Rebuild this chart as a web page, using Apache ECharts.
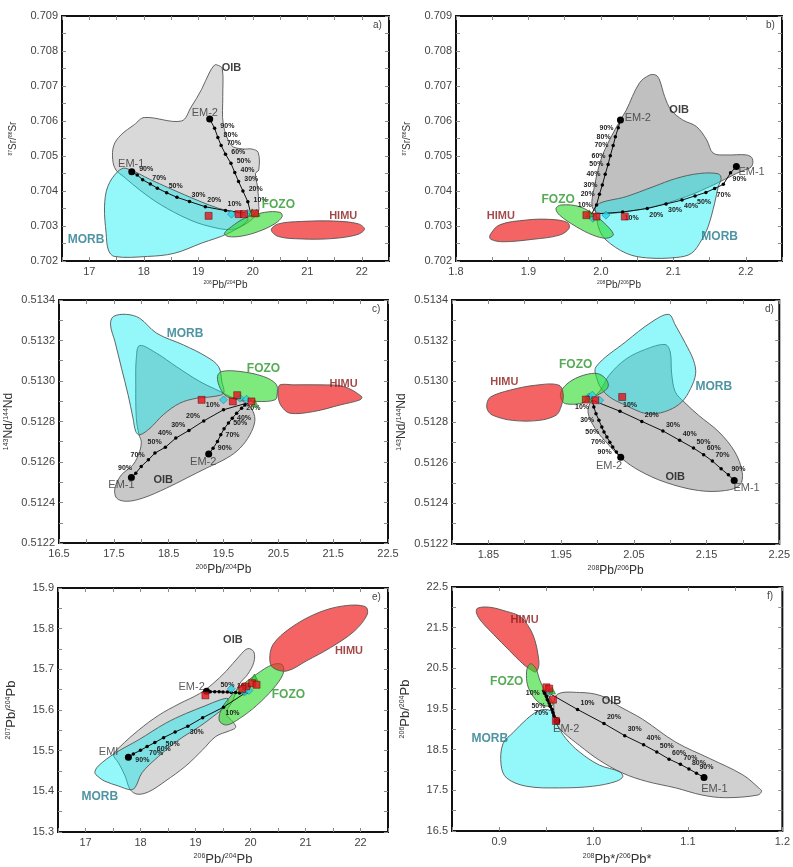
<!DOCTYPE html>
<html><head><meta charset="utf-8">
<script src="https://cdn.jsdelivr.net/npm/echarts@6/dist/echarts.min.js"></script>
<style>html,body{margin:0;padding:0;background:#fff}#c{width:793px;height:867px}</style>
</head><body><div id="c"></div>
<script>
const FONT = 'Liberation Sans, Arial, sans-serif';

// ---------- Panel a : 87Sr/86Sr vs 206Pb/204Pb ----------
const aXTicks = [17, 18, 19, 20, 21, 22];
const aYTicks = [0.702, 0.703, 0.704, 0.705, 0.706, 0.707, 0.708, 0.709];
const aOIB = [[19.35,0.7076],[19.44,0.7075],[19.45,0.7067],[19.46,0.7059],[19.61,0.7053],[19.82,0.7052],[19.98,0.7052],[20.10,0.7051],[20.11,0.7046],[20.05,0.7045],[20.09,0.7041],[20.11,0.7036],[20.10,0.7034],[19.91,0.7031],[19.61,0.7029],[19.18,0.7030],[18.81,0.7032],[18.32,0.7036],[17.95,0.7040],[17.64,0.7044],[17.49,0.7046],[17.43,0.7049],[17.45,0.7053],[17.58,0.7056],[17.83,0.7059],[18.01,0.7061],[18.69,0.7060],[18.87,0.7064],[19.06,0.7069],[19.21,0.7074],[19.30,0.7076]];
const aMORB = [[17.67,0.70465],[18.13,0.70432],[18.75,0.70389],[19.36,0.70351],[19.79,0.70335],[19.91,0.70317],[19.55,0.70279],[19.06,0.70251],[18.56,0.70222],[18.07,0.70213],[17.46,0.70213],[17.35,0.70232],[17.31,0.70279],[17.28,0.70355],[17.34,0.70413],[17.52,0.70455]];
const aFOZO = [[19.48,0.70279],[19.61,0.70298],[19.85,0.70322],[20.22,0.70339],[20.50,0.70339],[20.54,0.70327],[20.40,0.70306],[20.10,0.70284],[19.79,0.70271],[19.55,0.70270]];
const aHIMU = [[20.34,0.70289],[20.47,0.70306],[20.90,0.70313],[21.51,0.70314],[21.94,0.70306],[22.05,0.70291],[21.91,0.70275],[21.45,0.70264],[20.90,0.70263],[20.47,0.70270]];
const aEM1 = [[17.78,0.70455],[17.88,0.70446],[17.98,0.70432],[18.12,0.7042],[18.25,0.70408],[18.42,0.70395],[18.61,0.70382],[18.84,0.7037],[19.13,0.70355],[19.50,0.70344],[19.94,0.70336]];
const aEM1Pct = ['','90%','','70%','','50%','','30%','20%','10%',''];
const aEM2 = [[19.21,0.70606],[19.30,0.70579],[19.36,0.70553],[19.42,0.7053],[19.50,0.70505],[19.60,0.70479],[19.67,0.70453],[19.74,0.70427],[19.82,0.70400],[19.91,0.70369],[19.96,0.70338]];
const aEM2Pct = ['','90%','80%','70%','60%','50%','40%','30%','20%','10%',''];
const aRed = [[19.19,0.70329],[19.74,0.70334],[19.84,0.70334],[20.04,0.70336]];
const aCyan = [[19.61,0.70334],[19.90,0.70336]];
const aGreen = [[19.99,0.70339],[20.07,0.70338]];
const aNames = [['OIB',19.61,0.70751],['EM-2',19.12,0.70622],['EM-1',17.77,0.70477],['FOZO',20.47,0.7036],['HIMU',21.66,0.70329],['MORB',16.94,0.7026]];

// ---------- Panel b : 87Sr/86Sr vs 208Pb/206Pb ----------
const bXTicks = [1.8, 1.9, 2.0, 2.1, 2.2];
const bYTicks = aYTicks;
const bOIB = [[1.988,0.70355],[1.991,0.70412],[2.000,0.70489],[2.012,0.70546],[2.027,0.70603],[2.035,0.70631],[2.053,0.70708],[2.067,0.70731],[2.076,0.70731],[2.081,0.70717],[2.088,0.7067],[2.097,0.70631],[2.113,0.70603],[2.132,0.70584],[2.146,0.70546],[2.155,0.70508],[2.173,0.70503],[2.201,0.70503],[2.209,0.70493],[2.208,0.7047],[2.196,0.70458],[2.187,0.7045],[2.155,0.70417],[2.118,0.70384],[2.072,0.70355],[2.035,0.70341],[1.998,0.70336]];
const bMORB = [[1.994,0.7036],[2.035,0.70384],[2.072,0.70412],[2.104,0.70436],[2.136,0.7045],[2.162,0.70449],[2.166,0.70436],[2.162,0.70412],[2.157,0.70365],[2.148,0.70298],[2.139,0.7026],[2.125,0.70222],[2.104,0.7021],[2.063,0.70209],[2.035,0.70222],[2.007,0.7026],[1.998,0.70289],[1.994,0.70327]];
const bFOZO = [[1.938,0.7035],[1.945,0.7036],[1.971,0.70355],[1.994,0.70327],[2.012,0.70293],[2.017,0.70274],[2.007,0.70265],[1.989,0.70274],[1.966,0.70298],[1.943,0.70331]];
const bHIMU = [[1.847,0.70274],[1.860,0.70303],[1.897,0.70317],[1.929,0.70319],[1.954,0.7031],[1.956,0.70293],[1.943,0.70274],[1.906,0.70262],[1.865,0.70255],[1.848,0.70262]];
const bEM2 = [[2.027,0.70603],[2.024,0.70581],[2.020,0.70555],[2.017,0.7053],[2.013,0.70501],[2.010,0.70476],[2.006,0.70448],[2.002,0.70417],[1.998,0.70391],[1.994,0.7036],[1.987,0.70334]];
const bEM2Pct = ['','90%','80%','70%','60%','50%','40%','30%','20%','10%',''];
const bEM1 = [[2.187,0.7047],[2.179,0.70452],[2.169,0.70419],[2.157,0.70407],[2.145,0.70396],[2.130,0.70386],[2.112,0.70374],[2.090,0.70363],[2.064,0.7035],[2.030,0.7034],[1.989,0.70334]];
const bEM1Pct = ['','90%','','70%','','50%','40%','30%','20%','10%',''];
const bRed = [[1.980,0.70331],[1.994,0.70327],[2.033,0.70327]];
const bCyan = [[1.989,0.70322],[2.007,0.70331]];
const bGreen = [[1.984,0.70336]];
const bNames = [['OIB',2.108,0.70631],['EM-2',2.051,0.70608],['EM-1',2.208,0.70455],['FOZO',1.941,0.70374],['HIMU',1.862,0.70329],['MORB',2.164,0.7027]];

// ---------- Panel c : 143Nd/144Nd vs 206Pb/204Pb ----------
const cXTicks = [16.5, 17.5, 18.5, 19.5, 20.5, 21.5, 22.5];
const cYTicks = [0.5122, 0.5124, 0.5126, 0.5128, 0.5130, 0.5132, 0.5134];
const cOIB = [[17.97,0.513175],[18.28,0.513137],[18.64,0.513071],[19.07,0.512997],[19.44,0.512948],[19.62,0.512923],[19.92,0.51289],[20.04,0.512849],[20.07,0.5128],[19.98,0.512734],[19.80,0.512668],[19.56,0.512619],[19.19,0.51257],[18.83,0.512521],[18.46,0.512471],[18.03,0.512422],[17.73,0.512406],[17.55,0.512422],[17.52,0.512471],[17.64,0.512537],[17.85,0.512586],[17.97,0.512652],[18.00,0.512701],[17.96,0.512734],[17.91,0.512816],[17.90,0.512981],[17.91,0.513112]];
const cMORB = [[17.49,0.513318],[17.73,0.513329],[17.97,0.51331],[18.28,0.513236],[18.77,0.513178],[19.19,0.51312],[19.41,0.513071],[19.47,0.512997],[19.50,0.51294],[19.31,0.512923],[19.01,0.512915],[18.70,0.51289],[18.40,0.512833],[18.16,0.512767],[17.97,0.512734],[17.90,0.512751],[17.85,0.512816],[17.76,0.512932],[17.64,0.513063],[17.52,0.513195],[17.44,0.513277]];
const cFOZO = [[19.39,0.513022],[19.47,0.513047],[19.80,0.513047],[20.23,0.513022],[20.46,0.512984],[20.48,0.51294],[20.44,0.512907],[20.11,0.512899],[19.80,0.512907],[19.56,0.512923],[19.44,0.512964]];
const cHIMU = [[20.50,0.512956],[20.53,0.512981],[20.78,0.512981],[21.26,0.512981],[21.69,0.512973],[22.02,0.512923],[21.99,0.512907],[21.63,0.512882],[21.14,0.512849],[20.71,0.512841],[20.56,0.512874],[20.50,0.512915]];
const cEM1 = [[17.82,0.512524],[17.90,0.512545],[18.00,0.512578],[18.13,0.512611],[18.25,0.512644],[18.44,0.512673],[18.63,0.512718],[18.87,0.512756],[19.14,0.512803],[19.50,0.512858],[19.92,0.51289]];
const cEM1Pct = ['','90%','','70%','','50%','40%','30%','20%','10%',''];
const cEM2 = [[19.23,0.512639],[19.31,0.512668],[19.39,0.512701],[19.45,0.512734],[19.51,0.512764],[19.59,0.512792],[19.66,0.512816],[19.74,0.512841],[19.83,0.512866],[19.89,0.512882],[19.95,0.51289]];
const cEM2Pct = ['','90%','','70%','','50%','40%','','20%','',''];
const cRed = [[19.10,0.512907],[19.67,0.512899],[19.75,0.51293],[20.01,0.512899]];
const cCyan = [[19.50,0.512907],[19.80,0.512915],[19.92,0.51291]];
const cGreen = [[20.07,0.51289]];
const cNames = [['MORB',18.80,0.513236],['FOZO',20.23,0.513063],['HIMU',21.69,0.512984],['OIB',18.40,0.512513],['EM-1',17.64,0.512488],['EM-2',19.13,0.5126]];

// ---------- Panel d : 143Nd/144Nd vs 208Pb/206Pb ----------
const dXTicks = [1.85, 1.95, 2.05, 2.15, 2.25];
const dYTicks = cYTicks;
const dOIB = [[2.016,0.51303],[2.039,0.513109],[2.066,0.513157],[2.093,0.513181],[2.100,0.513145],[2.102,0.513038],[2.107,0.512948],[2.119,0.512899],[2.139,0.512833],[2.167,0.512751],[2.189,0.512652],[2.199,0.512553],[2.196,0.512491],[2.176,0.512463],[2.139,0.512463],[2.093,0.512504],[2.057,0.512562],[2.034,0.512619],[2.016,0.512685],[1.997,0.512767],[1.987,0.512849],[1.992,0.512907],[2.004,0.512956]];
const dMORB = [[1.998,0.513071],[2.039,0.513195],[2.075,0.513293],[2.098,0.513329],[2.107,0.513277],[2.121,0.513186],[2.132,0.513104],[2.135,0.513038],[2.128,0.512964],[2.116,0.512899],[2.098,0.512858],[2.075,0.512839],[2.059,0.512849],[2.039,0.512882],[2.020,0.512915],[2.007,0.512956],[2.000,0.513005]];
const dFOZO = [[1.949,0.512932],[1.952,0.512964],[1.965,0.513005],[1.984,0.513033],[2.000,0.513038],[2.011,0.513014],[2.015,0.512981],[2.011,0.512956],[2.000,0.512932],[1.988,0.512907],[1.975,0.51289],[1.956,0.51289],[1.951,0.512907]];
const dHIMU = [[1.848,0.51289],[1.853,0.512923],[1.879,0.512956],[1.915,0.512981],[1.947,0.512981],[1.953,0.512932],[1.949,0.512866],[1.943,0.512833],[1.920,0.512808],[1.883,0.512808],[1.856,0.512833],[1.849,0.512858]];
const dEM2 = [[2.032,0.512627],[2.026,0.512652],[2.021,0.512677],[2.017,0.512701],[2.013,0.512726],[2.009,0.512751],[2.006,0.512775],[2.002,0.512808],[1.998,0.512841],[1.995,0.512874],[1.993,0.512907]];
const dEM2Pct = ['','90%','','70%','','50%','','30%','','10%',''];
const dEM1 = [[2.188,0.512512],[2.180,0.51254],[2.170,0.51257],[2.158,0.512608],[2.146,0.512639],[2.132,0.512672],[2.113,0.51271],[2.090,0.512756],[2.061,0.512803],[2.031,0.512853],[1.993,0.512907]];
const dEM1Pct = ['','90%','','70%','60%','50%','40%','30%','20%','10%',''];
const dRed = [[1.984,0.51291],[1.997,0.512907],[2.034,0.512923]];
const dCyan = [[1.988,0.512923],[2.003,0.512907],[1.993,0.512932]];
const dGreen = [[1.987,0.512915]];
const dNames = [['HIMU',1.872,0.512997],['FOZO',1.970,0.51308],['MORB',2.160,0.512976],['OIB',2.107,0.512529],['EM-2',2.016,0.512586],['EM-1',2.205,0.512475]];

// ---------- Panel e : 207Pb/204Pb vs 206Pb/204Pb ----------
const eXTicks = [17, 18, 19, 20, 21, 22];
const eYTicks = [15.3, 15.4, 15.5, 15.6, 15.7, 15.8, 15.9];
const eOIB = [[19.95,15.751],[20.06,15.743],[20.06,15.717],[19.95,15.688],[19.80,15.664],[19.68,15.624],[19.56,15.591],[19.68,15.571],[19.73,15.557],[19.62,15.549],[19.37,15.535],[19.13,15.502],[18.82,15.462],[18.45,15.425],[18.15,15.399],[17.94,15.393],[17.81,15.405],[17.72,15.438],[17.60,15.470],[17.51,15.490],[17.63,15.510],[17.97,15.551],[18.33,15.587],[18.70,15.615],[19.07,15.640],[19.31,15.664],[19.56,15.696],[19.80,15.733]];
const eMORB = [[17.17,15.446],[17.23,15.462],[17.54,15.494],[17.97,15.527],[18.45,15.567],[18.82,15.591],[19.19,15.611],[19.43,15.624],[19.59,15.628],[19.56,15.611],[19.31,15.583],[19.07,15.559],[18.70,15.527],[18.33,15.486],[18.03,15.446],[17.90,15.409],[17.81,15.404],[17.60,15.413],[17.35,15.425],[17.23,15.436]];
const eFOZO = [[19.43,15.575],[19.49,15.607],[19.74,15.648],[20.11,15.688],[20.41,15.712],[20.58,15.711],[20.59,15.688],[20.41,15.652],[20.11,15.611],[19.80,15.579],[19.56,15.563]];
const eHIMU = [[20.35,15.725],[20.41,15.761],[20.72,15.801],[21.21,15.838],[21.69,15.856],[22.09,15.854],[22.12,15.834],[21.88,15.793],[21.45,15.753],[21.02,15.721],[20.66,15.696],[20.41,15.704]];
const eEM1 = [[17.78,15.484],[17.87,15.492],[18.00,15.501],[18.12,15.510],[18.26,15.520],[18.42,15.532],[18.63,15.546],[18.86,15.560],[19.13,15.581],[19.51,15.607],[19.95,15.646]];
const eEM1Pct = ['','90%','','70%','60%','50%','','30%','','10%',''];
const eEM2 = [[19.20,15.646],[19.27,15.645],[19.35,15.645],[19.43,15.645],[19.50,15.644],[19.58,15.644],[19.65,15.643],[19.73,15.643],[19.80,15.642],[19.88,15.642],[19.95,15.641]];
const eEM2Pct = ['','','','','','50%','','','','10%',''];
const eRed = [[19.18,15.636],[19.92,15.658],[20.03,15.666],[20.11,15.662],[19.85,15.652]];
const eCyan = [[19.65,15.652],[19.89,15.644],[19.97,15.648]];
const eGreen = [[20.07,15.680]];
const eNames = [['OIB',19.68,15.773],['EM-2',18.93,15.656],['EMI',17.42,15.498],['MORB',17.26,15.387],['FOZO',20.69,15.638],['HIMU',21.79,15.745]];

// ---------- Panel f : 206Pb/204Pb vs 208Pb*/206Pb* ----------
const fXTicks = [0.9, 1.0, 1.1, 1.2];
const fYTicks = [16.5, 17.5, 18.5, 19.5, 20.5, 21.5, 22.5];
const fOIB = [[0.961,19.849],[0.985,19.906],[1.008,19.825],[1.027,19.568],[1.052,19.247],[1.087,18.685],[1.123,18.283],[1.158,17.882],[1.175,17.56],[1.178,17.48],[1.174,17.384],[1.140,17.319],[1.115,17.384],[1.087,17.56],[1.056,17.721],[1.031,17.922],[1.006,18.243],[0.985,18.604],[0.968,18.926],[0.961,19.127],[0.958,19.408]];
const fMORB = [[0.904,18.645],[0.915,18.926],[0.929,19.247],[0.941,19.448],[0.950,19.488],[0.957,19.408],[0.961,19.127],[0.971,18.765],[0.985,18.444],[1.006,18.122],[1.027,17.962],[1.031,17.841],[1.024,17.721],[0.999,17.6],[0.964,17.56],[0.929,17.6],[0.908,17.801],[0.902,18.122]];
const fHIMU = [[0.877,21.978],[0.890,22.002],[0.908,21.898],[0.922,21.777],[0.932,21.496],[0.938,21.175],[0.941,20.853],[0.942,20.572],[0.939,20.412],[0.934,20.452],[0.925,20.612],[0.911,20.934],[0.894,21.335],[0.881,21.657],[0.876,21.857]];
const fFOZO = [[0.929,20.412],[0.931,20.572],[0.934,20.612],[0.939,20.492],[0.943,20.211],[0.948,19.97],[0.954,19.769],[0.957,19.608],[0.954,19.568],[0.945,19.608],[0.936,19.809],[0.930,20.09]];
const fEM1 = [[1.117,17.817],[1.109,17.922],[1.101,18.026],[1.092,18.139],[1.080,18.267],[1.067,18.444],[1.053,18.62],[1.033,18.845],[1.011,19.143],[0.983,19.488],[0.954,19.873]];
const fEM1Pct = ['','90%','80%','70%','60%','50%','40%','30%','20%','10%',''];
const fEM2 = [[0.961,19.207],[0.960,19.263],[0.958,19.327],[0.957,19.408],[0.956,19.488],[0.954,19.568],[0.953,19.648],[0.951,19.729],[0.950,19.809],[0.948,19.89],[0.946,19.97]];
const fEM2Pct = ['','','','70%','','50%','','','','10%',''];
const fRed = [[0.950,20.034],[0.953,20.002],[0.957,19.729],[0.960,19.207]];
const fCyan = [[0.954,19.922]];
const fGreen = [[0.956,19.954]];
const fNames = [['HIMU',0.927,21.697],['FOZO',0.908,20.171],['MORB',0.890,18.765],['OIB',1.019,19.689],['EM-2',0.971,19.006],['EM-1',1.128,17.544]];

// ---------- styling ----------
const FILL = {
  MORB: 'rgba(0,235,240,0.42)',
  FOZO: 'rgba(40,220,40,0.6)',
  HIMU: 'rgba(240,40,40,0.72)'
};
const NAME_STYLE = {
  OIB: {color:'#111', fontWeight:'bold', fontSize:11},
  MORB: {color:'#23798c', fontWeight:'bold', fontSize:12},
  FOZO: {color:'#2b962b', fontWeight:'bold', fontSize:12},
  HIMU: {color:'#8a1c1c', fontWeight:'bold', fontSize:11},
  EM: {color:'#333', fontWeight:'normal', fontSize:11}
};

const panels = [
  {letter:'a)', grid:{left:62, top:16, width:327, height:245}, oib:'rgba(150,150,150,0.36)',
   x:{min:16.5, max:22.5, step:0.5, ticks:aXTicks, dec:0}, y:{min:0.702, max:0.709, step:0.0005, ticks:aYTicks, dec:3},
   xName:'{s|206}Pb/{s|204}Pb', yName:'{s|87}Sr/{s|86}Sr', nameSize:10, supSize:5, xGap:19, yGap:44,
   polys:[['OIB',aOIB],['MORB',aMORB],['FOZO',aFOZO],['HIMU',aHIMU]],
   lines:[{pts:aEM1, pct:aEM1Pct, pos:'top', off:[9,1]},{pts:aEM2, pct:aEM2Pct, pos:'right', off:[2,-2]}],
   red:aRed, cyan:aCyan, green:aGreen, names:aNames},
  {letter:'b)', grid:{left:456, top:16, width:326, height:245}, oib:'rgba(150,150,150,0.6)',
   x:{min:1.8, max:2.25, step:0.05, ticks:bXTicks, dec:1}, y:{min:0.702, max:0.709, step:0.0005, ticks:bYTicks, dec:3},
   xName:'{s|208}Pb/{s|206}Pb', yName:'{s|87}Sr/{s|86}Sr', nameSize:10, supSize:5, xGap:19, yGap:44,
   polys:[['OIB',bOIB],['MORB',bMORB],['FOZO',bFOZO],['HIMU',bHIMU]],
   lines:[{pts:bEM2, pct:bEM2Pct, pos:'left', off:[-1,0]},{pts:bEM1, pct:bEM1Pct, pos:'bottom', off:[9,-1]}],
   red:bRed, cyan:bCyan, green:bGreen, names:bNames},
  {letter:'c)', grid:{left:59, top:300, width:329, height:243}, oib:'rgba(150,150,150,0.52)',
   x:{min:16.5, max:22.5, step:0.5, ticks:cXTicks, dec:1}, y:{min:0.5122, max:0.5134, step:0.0001, ticks:cYTicks, dec:4},
   xName:'{s|206}Pb/{s|204}Pb', yName:'{s|143}Nd/{s|144}Nd', nameSize:12, supSize:7, xGap:21, yGap:44,
   polys:[['OIB',cOIB],['MORB',cMORB],['FOZO',cFOZO],['HIMU',cHIMU]],
   lines:[{pts:cEM1, pct:cEM1Pct, pos:'left', off:[0,-5]},{pts:cEM2, pct:cEM2Pct, pos:'right', off:[1,0]}],
   red:cRed, cyan:cCyan, green:cGreen, names:cNames},
  {letter:'d)', grid:{left:452, top:300, width:329, height:244}, oib:'rgba(150,150,150,0.55)',
   x:{min:1.8, max:2.25, step:0.05, ticks:dXTicks, dec:2}, y:{min:0.5122, max:0.5134, step:0.0001, ticks:dYTicks, dec:4},
   xName:'{s|208}Pb/{s|206}Pb', yName:'{s|143}Nd/{s|144}Nd', nameSize:12, supSize:7, xGap:21, yGap:44,
   polys:[['OIB',dOIB],['MORB',dMORB],['FOZO',dFOZO],['HIMU',dHIMU]],
   lines:[{pts:dEM2, pct:dEM2Pct, pos:'left', off:[-1,0]},{pts:dEM1, pct:dEM1Pct, pos:'top', off:[10,1]}],
   red:dRed, cyan:dCyan, green:dGreen, names:dNames},
  {letter:'e)', grid:{left:58, top:588, width:330, height:247}, oib:'rgba(150,150,150,0.38)',
   x:{min:16.5, max:22.5, step:0.5, ticks:eXTicks, dec:0}, y:{min:15.3, max:15.9, step:0.05, ticks:eYTicks, dec:1},
   xName:'{s|206}Pb/{s|204}Pb', yName:'{s|207}Pb/{s|204}Pb', nameSize:13, supSize:7, xGap:21, yGap:40,
   polys:[['OIB',eOIB],['MORB',eMORB],['FOZO',eFOZO],['HIMU',eHIMU]],
   lines:[{pts:eEM1, pct:eEM1Pct, pos:'bottom', off:[9,-1]},{pts:eEM2, pct:eEM2Pct, pos:'top', off:[0,0]}],
   red:eRed, cyan:eCyan, green:eGreen, names:eNames},
  {letter:'f)', grid:{left:452, top:587, width:331, height:248}, oib:'rgba(150,150,150,0.45)',
   x:{min:0.85, max:1.2, step:0.05, ticks:fXTicks, dec:1}, y:{min:16.5, max:22.5, step:0.5, ticks:fYTicks, dec:1},
   xName:'{s|208}Pb*/{s|206}Pb*', yName:'{s|206}Pb/{s|204}Pb', nameSize:13, supSize:7, xGap:22, yGap:40,
   polys:[['OIB',fOIB],['MORB',fMORB],['HIMU',fHIMU],['FOZO',fFOZO]],
   lines:[{pts:fEM1, pct:fEM1Pct, pos:'top', off:[10,1]},{pts:fEM2, pct:fEM2Pct, pos:'left', off:[-1,0], width:2.5}],
   red:fRed, cyan:fCyan, green:fGreen, names:fNames}
];

const grids = [], xAxes = [], yAxes = [], series = [], graphics = [];

function tickStyle(){ return {inside:true, length:4, lineStyle:{color:'#888', width:1}}; }

panels.forEach((p, gi) => {
  grids.push(Object.assign({show:true, borderColor:'#111', borderWidth:2, backgroundColor:'#fff', containLabel:false}, p.grid));
  const rich = {s:{fontSize:p.supSize, verticalAlign:'top', fontFamily:FONT, color:'#333', padding:[0,0,0,0]}};
  const nameStyle = {fontSize:p.nameSize, color:'#333', fontFamily:FONT, rich};
  xAxes.push({type:'value', gridIndex:gi, min:p.x.min, max:p.x.max, interval:p.x.step, position:'bottom',
    axisLine:{show:false}, splitLine:{show:false}, axisTick:tickStyle(),
    axisLabel:{customValues:p.x.ticks, formatter:v=>v.toFixed(p.x.dec), color:'#444', fontSize:11, margin:5, fontFamily:FONT},
    name:p.xName, nameLocation:'middle', nameGap:p.xGap, nameTextStyle:nameStyle});
  xAxes.push({type:'value', gridIndex:gi, min:p.x.min, max:p.x.max, interval:p.x.step, position:'top',
    axisLine:{show:false}, splitLine:{show:false}, axisTick:tickStyle(), axisLabel:{show:false}});
  yAxes.push({type:'value', gridIndex:gi, min:p.y.min, max:p.y.max, interval:p.y.step, position:'left',
    axisLine:{show:false}, splitLine:{show:false}, axisTick:tickStyle(),
    axisLabel:{customValues:p.y.ticks, formatter:v=>v.toFixed(p.y.dec), color:'#444', fontSize:11, margin:4, fontFamily:FONT},
    name:p.yName, nameLocation:'middle', nameGap:p.yGap, nameRotate:90, nameTextStyle:nameStyle});
  yAxes.push({type:'value', gridIndex:gi, min:p.y.min, max:p.y.max, interval:p.y.step, position:'right',
    axisLine:{show:false}, splitLine:{show:false}, axisTick:tickStyle(), axisLabel:{show:false}});
  const xi = gi*2, yi = gi*2;

  p.polys.forEach(([key, pts], k) => {
    const fill = key === 'OIB' ? p.oib : FILL[key];
    series.push({type:'custom', xAxisIndex:xi, yAxisIndex:yi, data:pts, encode:{x:0, y:1}, z:2+k, silent:true,
      renderItem:(params, api) => {
        if (params.dataIndex !== 0) return null;
        return {type:'polygon', shape:{points:pts.map(d=>api.coord(d)), smooth:0.35},
                style:{fill, stroke:'#555', lineWidth:0.9}};
      }});
  });

  p.lines.forEach(l => {
    const data = l.pts.map((pt, i) => {
      const item = {value:pt};
      if (i === 0) item.symbolSize = 7;
      if (i === l.pts.length-1) item.symbolSize = 0;
      if (l.pct[i]) item.label = {show:true, formatter:l.pct[i]};
      return item;
    });
    series.push({type:'line', xAxisIndex:xi, yAxisIndex:yi, data, symbol:'circle', symbolSize:3.5, showAllSymbol:true,
      itemStyle:{color:'#000'}, lineStyle:{color:'#111', width:l.width||1}, z:10, silent:true,
      label:{show:false, position:l.pos, offset:l.off, fontSize:7, fontWeight:'bold', color:'#222', fontFamily:FONT, distance:2}});
  });

  series.push({type:'scatter', xAxisIndex:xi, yAxisIndex:yi, data:p.cyan, symbol:'diamond', symbolSize:8, z:12, silent:true,
    itemStyle:{color:'#27d3e6', borderColor:'#0a6f80', borderWidth:0.6}});
  series.push({type:'scatter', xAxisIndex:xi, yAxisIndex:yi, data:p.green, symbol:'triangle', symbolSize:7, z:12, silent:true,
    itemStyle:{color:'#33cc33', borderColor:'#0a5a0a', borderWidth:0.6}});
  series.push({type:'scatter', xAxisIndex:xi, yAxisIndex:yi, data:p.red, symbol:'rect', symbolSize:7, z:13, silent:true,
    itemStyle:{color:'#e3141c', borderColor:'#5a0000', borderWidth:0.6}});

  series.push({type:'scatter', xAxisIndex:xi, yAxisIndex:yi, z:15, silent:true, symbol:'circle', symbolSize:1,
    itemStyle:{color:'rgba(0,0,0,0)'},
    data:p.names.map(([t, x, y]) => {
      const st = NAME_STYLE[t] || NAME_STYLE.EM;
      return {value:[x, y], label:Object.assign({show:true, position:'inside', formatter:t, fontFamily:FONT}, st)};
    })});

  graphics.push({type:'text', left:p.grid.left + p.grid.width - 16, top:p.grid.top + 4,
    style:{text:p.letter, font:'10px ' + FONT, fill:'#444'}});
});

const chart = echarts.init(document.getElementById('c'), null, {renderer:'canvas'});
chart.setOption({
  animation:false, backgroundColor:'#fff',
  grid:grids, xAxis:xAxes, yAxis:yAxes, series, graphic:graphics
});
</script></body></html>
